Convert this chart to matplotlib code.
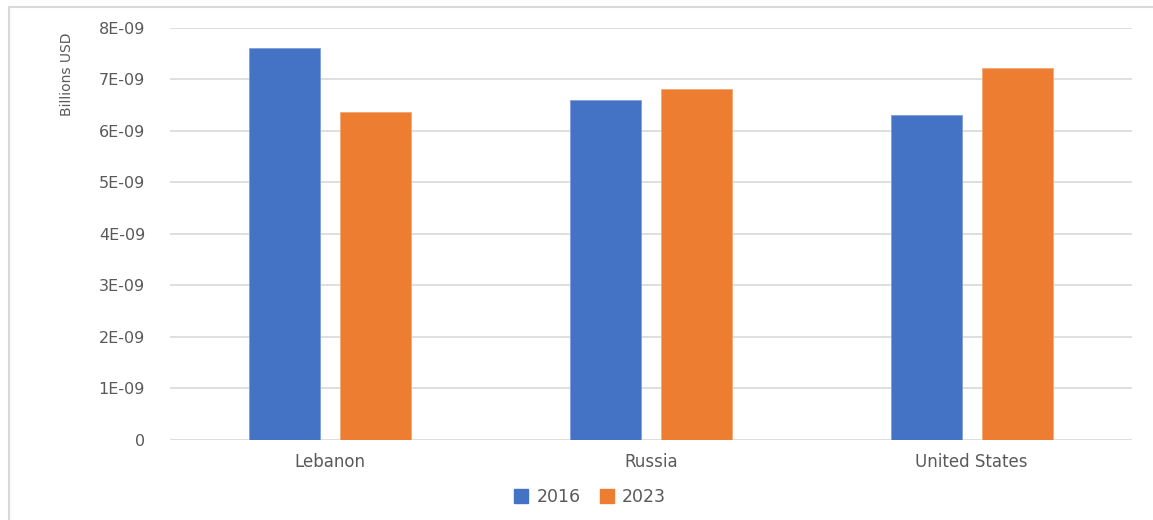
import matplotlib
matplotlib.use("Agg")
import matplotlib.pyplot as plt
import numpy as np
from matplotlib.lines import Line2D

countries = ["Lebanon", "Russia", "United States"]
years = ["2016", "2023"]
values_2016 = [7.60e-9, 6.59e-9, 6.31e-9]
values_2023 = [6.36e-9, 6.80e-9, 7.21e-9]
y_ticks = [0, 1e-9, 2e-9, 3e-9, 4e-9, 5e-9, 6e-9, 7e-9, 8e-9]
y_tick_labels = ["0", "1E-09", "2E-09", "3E-09", "4E-09", "5E-09", "6E-09", "7E-09", "8E-09"]
y_label = "Billions USD"

plt.rcParams["font.family"] = ["DejaVu Sans"]

blue = "#4472C4"
orange = "#ED7D31"
grid_c = "#D9D9D9"
text_c = "#595959"

W, H = 1153, 520
fig = plt.figure(figsize=(W / 100, H / 100), dpi=100)
ax = fig.add_axes([170 / W, 1 - 439.5 / H, (1132 - 170) / W, (439.5 - 27.7) / H])

x = np.arange(len(countries))
bw = 0.222
off = 0.142
ax.bar(x - off, values_2016, width=bw, color=blue, edgecolor="#7F9FD8", linewidth=0.6, zorder=3, label=years[0])
ax.bar(x + off, values_2023, width=bw, color=orange, edgecolor="#F3A778", linewidth=0.6, zorder=3, label=years[1])

ax.set_xlim(-0.5, len(countries) - 0.5)
ax.set_ylim(0, 8e-9)
ax.set_yticks(y_ticks)
ax.set_yticklabels(y_tick_labels)
ax.set_xticks(x)
ax.set_xticklabels(countries)
ax.yaxis.grid(True, color=grid_c, linewidth=1.2, zorder=0)
ax.set_axisbelow(True)
for s in ax.spines.values():
    s.set_visible(False)
ax.tick_params(axis="both", length=0, labelsize=11.5, labelcolor=text_c)
ax.tick_params(axis="y", pad=18)
ax.tick_params(axis="x", pad=10, labelsize=12)

fig.text(67 / W, 1 - 74 / H, y_label, rotation=90, ha="center", va="center",
         fontsize=10, color=text_c)

handles = [plt.Rectangle((0, 0), 1, 1, color=blue), plt.Rectangle((0, 0), 1, 1, color=orange)]
fig.legend(handles, years, loc="center", bbox_to_anchor=(590 / W, 1 - 497 / H), ncol=2,
           frameon=False, fontsize=12.5, labelcolor=text_c, handlelength=0.8, handleheight=0.8,
           handletextpad=0.5, columnspacing=1.1)

# outer chart frame (top and left edges)
fig.add_artist(Line2D([9 / W, 1], [1 - 7 / H, 1 - 7 / H], color=grid_c, linewidth=1.5))
fig.add_artist(Line2D([9 / W, 9 / W], [0, 1 - 7 / H], color=grid_c, linewidth=1.5))

fig.savefig("out.png", dpi=100, facecolor="white")
